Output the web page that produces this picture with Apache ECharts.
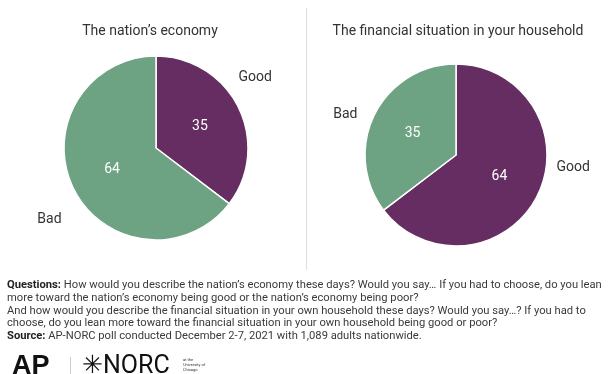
<!DOCTYPE html>
<html>
<head>
<meta charset="utf-8">
<script src="https://cdn.jsdelivr.net/npm/echarts@6/dist/echarts.min.js"></script>
<style>
html,body{margin:0;padding:0;background:#fff;}
#chart{width:612px;height:374px;}
</style>
</head>
<body>
<div id="chart"></div>
<script>
// Data
const chartTitles = ["The nation\u2019s economy", "The financial situation in your household"];
const economyCategories = ["Good", "Bad"];
const economyValues = [35, 64];
const householdCategories = ["Good", "Bad"];
const householdValues = [64, 35];
const sliceColors = { Good: "#652d62", Bad: "#6da283" };
const footerLines = [
  "{b|Questions:} How would you describe the nation\u2019s economy these days? Would you say\u2026 If you had to choose, do you lean",
  "more toward the nation\u2019s economy being good or the nation\u2019s economy being poor?",
  "And how would you describe the financial situation in your own household these days? Would you say\u2026? If you had to",
  "choose, do you lean more toward the financial situation in your own household being good or poor?",
  "{b|Source:} AP-NORC poll conducted December 2-7, 2021 with 1,089 adults nationwide."
];

const FONT = "Roboto";

function toData(cats, vals) {
  return cats.map((c, i) => ({ name: c, value: vals[i], itemStyle: { color: sliceColors[c] } }));
}

// label offsets for outer name labels (per series, per data index)
const nameOffsets = {
  econNames: [[0, -30], [-12, 31]],
  houseNames: [[19, -28], [-17, 0]]
};

function valueSeries(id, center, radius, cats, vals) {
  return {
    id: id,
    type: "pie",
    center: center,
    radius: radius,
    startAngle: 90,
    clockwise: true,
    animation: false,
    silent: true,
    itemStyle: { borderColor: "#ffffff", borderWidth: 1.5 },
    label: {
      show: true,
      position: "inside",
      formatter: "{c}",
      color: "#ffffff",
      fontFamily: FONT,
      fontSize: 14
    },
    labelLine: { show: false },
    data: toData(cats, vals)
  };
}

function nameSeries(id, center, radius, cats, vals) {
  const offs = nameOffsets[id];
  return {
    id: id,
    type: "pie",
    center: center,
    radius: radius,
    startAngle: 90,
    clockwise: true,
    animation: false,
    silent: true,
    avoidLabelOverlap: false,
    itemStyle: { color: "rgba(0,0,0,0)", borderWidth: 0 },
    label: {
      show: true,
      position: "outside",
      formatter: "{b}",
      color: "#333333",
      fontFamily: FONT,
      fontSize: 14,
      distanceToLabelLine: 0
    },
    labelLine: { show: false, length: 0, length2: 0 },
    labelLayout: function (p) {
      const o = offs[p.dataIndex];
      return { dx: o[0], dy: o[1] };
    },
    data: cats.map((c, i) => ({ name: c, value: vals[i] }))
  };
}

const chart = echarts.init(document.getElementById("chart"), null, { renderer: "canvas" });

const graphics = [
  { type: "line", shape: { x1: 306.5, y1: 8, x2: 306.5, y2: 270 }, style: { stroke: "#dddddd", lineWidth: 1 } }
];
const lineTops = [280, 293, 306, 318, 331];
footerLines.forEach((t, i) => {
  graphics.push({
    type: "text",
    left: 7,
    top: lineTops[i],
    style: {
      text: t,
      fontFamily: FONT,
      fontSize: 11.2,
      fill: "#3a3a3a",
      rich: { b: { fontFamily: FONT, fontSize: 11.2, fontWeight: "bold", fill: "#222222" } }
    }
  });
});
// logos
graphics.push({ type: "text", left: 12, top: 353, style: { text: "AP", fontFamily: "Liberation Sans", fontSize: 27, fontWeight: "900", fill: "#111111" } });
graphics.push({ type: "line", shape: { x1: 70.5, y1: 357, x2: 70.5, y2: 374 }, style: { stroke: "#cccccc", lineWidth: 1 } });
graphics.push({ type: "text", left: 82, top: 354, style: { text: "\u2733NORC", fontFamily: FONT, fontSize: 25, fill: "#111111" } });
graphics.push({ type: "text", left: 183, top: 357, style: { text: "at the\nUniversity of\nChicago", fontFamily: FONT, fontSize: 4, lineHeight: 5, fill: "#333333" } });

chart.setOption({
  backgroundColor: "#ffffff",
  animation: false,
  title: [
    { text: chartTitles[0], left: 145, top: 19, textAlign: "center", textStyle: { fontFamily: FONT, fontSize: 14, fontWeight: "normal", color: "#333333" } },
    { text: chartTitles[1], left: 453, top: 19, textAlign: "center", textStyle: { fontFamily: FONT, fontSize: 14, fontWeight: "normal", color: "#333333" } }
  ],
  series: [
    valueSeries("econValues", [156, 148], 92, economyCategories, economyValues),
    nameSeries("econNames", [156, 148], 92, economyCategories, economyValues),
    valueSeries("houseValues", [456, 155], 91, householdCategories, householdValues),
    nameSeries("houseNames", [456, 155], 91, householdCategories, householdValues)
  ],
  graphic: graphics
});
</script>
</body>
</html>
